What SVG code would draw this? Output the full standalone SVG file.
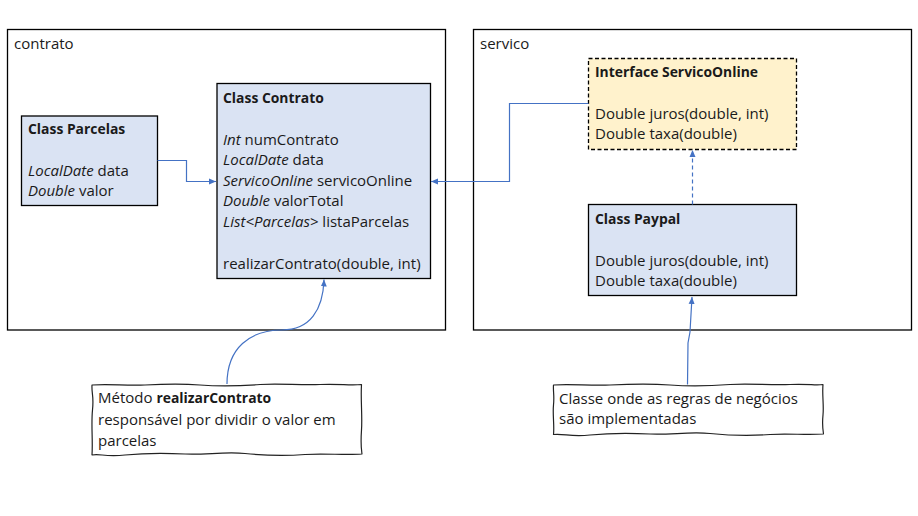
<svg xmlns="http://www.w3.org/2000/svg" width="918" height="516" viewBox="0 0 918 516">
<style>
text{font-family:"Open Sans","Liberation Sans",Arial,sans-serif;font-size:15px;fill:#1a1a1a}
.b{font-weight:bold;font-size:13.9px}
.i{font-style:italic}
.frame{fill:#fff;stroke:#000;stroke-width:1.3}
.cls{fill:#dae3f3;stroke:#000;stroke-width:1.3}
.ifc{fill:#fff2cc;stroke:#000;stroke-width:1.3;stroke-dasharray:4 2.5}
.note{fill:#fff;stroke:#222;stroke-width:1.2;stroke-linejoin:round}
.con{fill:none;stroke:#4472c4;stroke-width:1.2}
</style>
<defs>
<marker id="ah" markerWidth="8" markerHeight="8" refX="7" refY="4" orient="auto" markerUnits="userSpaceOnUse">
<path d="M0,1 L7,4 L0,7 Z" fill="#4472c4"/>
</marker>
</defs>
<rect width="918" height="516" fill="#fff"/>
<g id="frame-contrato">
<rect class="frame" x="7.5" y="29.5" width="438" height="300.5"/>
<text x="14" y="49">contrato</text>
</g>
<g id="frame-servico">
<rect class="frame" x="473.5" y="29.5" width="438" height="300.5"/>
<text x="480" y="49">servico</text>
</g>
<g id="class-parcelas">
<rect class="cls" x="21.5" y="116" width="136" height="89.5"/>
<text class="b" x="28" y="134">Class Parcelas</text>
<text x="28" y="176"><tspan class="i">LocalDate</tspan> data</text>
<text x="28" y="196"><tspan class="i">Double</tspan> valor</text>
</g>
<g id="class-contrato">
<rect class="cls" x="217" y="83.5" width="213.5" height="195"/>
<text class="b" x="223" y="103">Class Contrato</text>
<text x="223" y="145"><tspan class="i">Int</tspan> numContrato</text>
<text x="223" y="165"><tspan class="i">LocalDate</tspan> data</text>
<text x="223" y="186"><tspan class="i">ServicoOnline</tspan> servicoOnline</text>
<text x="223" y="206"><tspan class="i">Double</tspan> valorTotal</text>
<text x="223" y="227"><tspan class="i">List&lt;Parcelas&gt;</tspan> listaParcelas</text>
<text x="223" y="269">realizarContrato(double, int)</text>
</g>
<g id="interface-servicoonline">
<rect class="ifc" x="588.5" y="58.5" width="208" height="91"/>
<text class="b" x="595" y="77">Interface ServicoOnline</text>
<text x="595" y="119">Double juros(double, int)</text>
<text x="595" y="139">Double taxa(double)</text>
</g>
<g id="class-paypal">
<rect class="cls" x="588.5" y="204.5" width="208" height="91"/>
<text class="b" x="595" y="224">Class Paypal</text>
<text x="595" y="266">Double juros(double, int)</text>
<text x="595" y="286">Double taxa(double)</text>
</g>
<g id="note-realizar">
<path class="note" d="M92,385 C110,383.5 125,386 145,385 S180,383.5 200,385 S240,386 260,384.5 S300,385.5 320,384.5 S350,386 361.5,384.5 C360.5,400 362.5,415 361.5,430 S361,447 362,454 C345,455.5 325,453 305,454.5 S265,455.5 245,453.5 S205,455 185,454 S145,453 125,455 S100,453.5 92,455 C93,440 91,425 92.5,410 S91.5,395 92,385 Z"/>
<text x="98" y="403">Método <tspan class="b">realizarContrato</tspan></text>
<text x="98" y="425">responsável por dividir o valor em</text>
<text x="98" y="446">parcelas</text>
</g>
<g id="note-classe">
<path class="note" d="M553.5,385 C570,383.5 590,386 610,385 S650,383.5 670,385 S710,386 730,384.5 S770,385.5 790,384.5 S815,386 823,384.5 C822,395 824,405 823,415 S822.5,428 823.5,434 C805,435.5 790,433 770,434.5 S730,435.5 710,433.5 S670,435 650,434 S610,433 590,435 S565,433.5 553.5,434.5 C554.5,425 552.5,415 553.5,405 S553,392 553.5,385 Z"/>
<text x="559" y="404">Classe onde as regras de negócios</text>
<text x="559" y="424">são implementadas</text>
</g>
<g id="connectors">
<path class="con" d="M157.5,160.5 H186.5 V181.5 H216" marker-end="url(#ah)"/>
<path class="con" d="M588.5,103.5 H509.5 V181.5 H431" marker-end="url(#ah)"/>
<path class="con" d="M692.5,204.5 V150" stroke-dasharray="4 3" marker-end="url(#ah)"/>
<path class="con" d="M687.5,384.5 L688,343 L690,332 L692,297" marker-end="url(#ah)"/>
<path class="con" d="M227,384 C227,348 250,330 282,330 C310,330 323,310 324,279.5" marker-end="url(#ah)"/>
</g>
</svg>
